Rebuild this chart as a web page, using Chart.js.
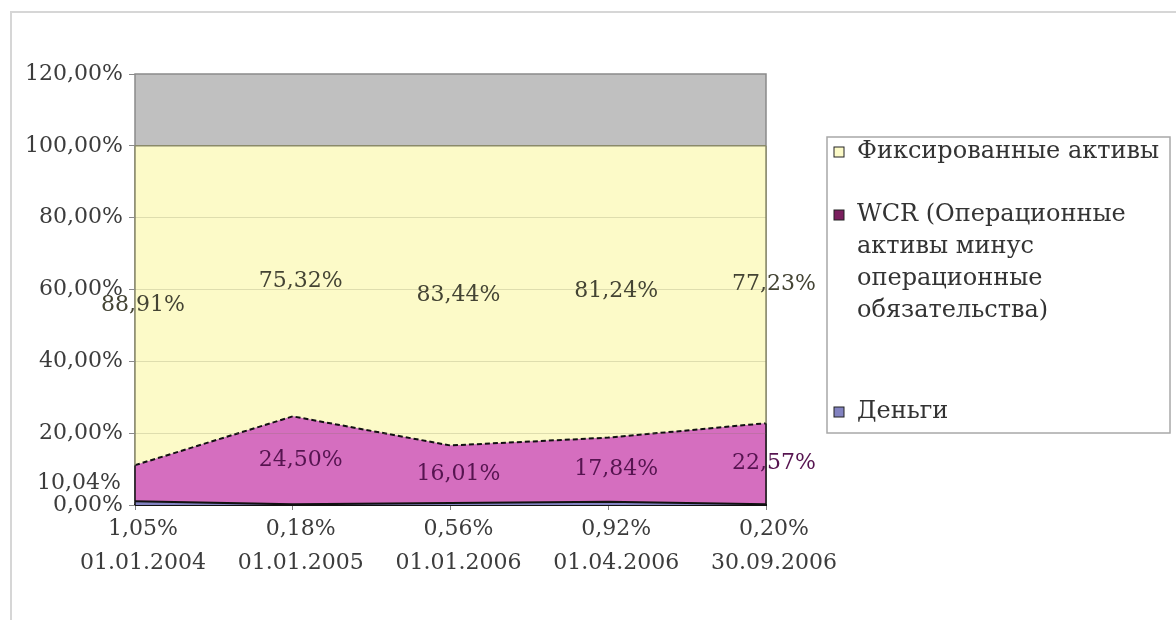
<!DOCTYPE html>
<html>
<head>
<meta charset="utf-8">
<script src="https://cdn.jsdelivr.net/npm/chart.js@4/dist/chart.umd.min.js"></script>
<style>
  html, body { margin: 0; padding: 0; background: #fff; }
  #wrap { width: 1176px; height: 620px; }
</style>
</head>
<body>
<div id="wrap"><canvas id="assetsChart" width="1176" height="620"></canvas></div>
<script>
const dates = ['01.01.2004', '01.01.2005', '01.01.2006', '01.04.2006', '30.09.2006'];
const money = [1.05, 0.18, 0.56, 0.92, 0.20];
const wcr = [10.04, 24.50, 16.01, 17.84, 22.57];
const fixedAssets = [88.91, 75.32, 83.44, 81.24, 77.23];
const seriesNames = ['Деньги', 'WCR (Операционные активы минус операционные обязательства)', 'Фиксированные активы'];
const yTicks = [0, 20, 40, 60, 80, 100, 120];

const FONT = '"DejaVu Serif", serif';
const pct = v => v.toFixed(2).replace('.', ',') + '%';

// white page with the light frame round it
const frame = {
  id: 'frame',
  beforeDraw(chart) {
    const { ctx, chartArea: a } = chart;
    ctx.save();
    ctx.fillStyle = '#fff';
    ctx.fillRect(0, 0, chart.width, chart.height);
    ctx.strokeStyle = '#d6d6d6';
    ctx.lineWidth = 2;
    ctx.strokeRect(11, 12, 1300, 800);
    // gray plot background
    ctx.fillStyle = '#c0c0c0';
    ctx.fillRect(a.left, a.top, a.right - a.left, a.bottom - a.top);
    ctx.strokeStyle = '#8a8a8a';
    ctx.lineWidth = 1.5;
    ctx.strokeRect(a.left, a.top, a.right - a.left, a.bottom - a.top);
    ctx.restore();
  }
};

// band edges at both ends + value labels
const areaLabels = {
  id: 'areaLabels',
  afterDatasetsDraw(chart) {
    const { ctx, chartArea: a, scales: { x, y } } = chart;
    const sets = chart.data.datasets;
    ctx.save();
    sets.forEach((ds, i) => {
      [0, ds.data.length - 1].forEach(j => {
        let base = 0;
        for (let k = 0; k < i; k++) base += sets[k].data[j];
        const px = x.getPixelForValue(j);
        ctx.strokeStyle = ds.edgeColor;
        ctx.lineWidth = 1.5;
        ctx.beginPath();
        ctx.moveTo(px, y.getPixelForValue(base));
        ctx.lineTo(px, y.getPixelForValue(base + ds.data[j]));
        ctx.stroke();
      });
    });

    ctx.font = '22px ' + FONT;
    ctx.textBaseline = 'middle';
    sets.forEach((ds, i) => {
      ds.data.forEach((v, j) => {
        let base = 0;
        for (let k = 0; k < i; k++) base += sets[k].data[j];
        let px = x.getPixelForValue(j) + 8;
        let py = y.getPixelForValue(base + v / 2);
        ctx.textAlign = 'center';
        ctx.fillStyle = ds.labelColor;
        if (i === 0) {
          py = a.bottom + 24;
        } else if (i === 1 && j === 0) {
          ctx.textAlign = 'right';
          ctx.fillStyle = '#3c3c3c';
          px = a.left - 14;
        }
        ctx.fillText(pct(v), px, py);
      });
    });
    ctx.restore();
  }
};

// legend box on the right, entries listed top series first
const sideLegend = {
  id: 'sideLegend',
  afterDraw(chart) {
    const { ctx } = chart;
    const box = { x: 827, y: 137, w: 343, h: 296 };
    const gaps = [63, 101];
    ctx.save();
    ctx.strokeStyle = '#a8a8a8';
    ctx.lineWidth = 1.5;
    ctx.strokeRect(box.x, box.y, box.w, box.h);
    ctx.font = '24px ' + FONT;
    ctx.textBaseline = 'middle';
    ctx.textAlign = 'left';
    const items = chart.data.datasets.slice().reverse();
    let yy = 152;
    items.forEach((ds, n) => {
      // wrap the name into the box width
      const words = ds.label.split(' ');
      const lines = [];
      let cur = '';
      words.forEach(w => {
        const t = cur ? cur + ' ' + w : w;
        if (ctx.measureText(t).width > 310 && cur) { lines.push(cur); cur = w; }
        else cur = t;
      });
      lines.push(cur);
      ctx.fillStyle = ds.legendColor;
      ctx.fillRect(834, yy - 5, 10, 10);
      ctx.strokeStyle = '#222';
      ctx.lineWidth = 1;
      ctx.strokeRect(834, yy - 5, 10, 10);
      ctx.fillStyle = '#333';
      lines.forEach((ln, li) => ctx.fillText(ln, 857, yy + li * 32));
      yy += (lines.length - 1) * 32 + (gaps[n] || 0);
    });
    ctx.restore();
  }
};

new Chart(document.getElementById('assetsChart'), {
  type: 'line',
  data: {
    labels: dates,
    datasets: [
      {
        label: seriesNames[0],
        data: money,
        fill: 'origin',
        backgroundColor: '#8282c0',
        borderColor: '#111',
        borderWidth: 2,
        edgeColor: '#111',
        legendColor: '#8282c0',
        labelColor: '#3c3c3c'
      },
      {
        label: seriesNames[1],
        data: wcr,
        fill: '-1',
        backgroundColor: '#d56ebf',
        borderColor: '#111',
        borderWidth: 2,
        borderDash: [5, 3],
        edgeColor: '#111',
        legendColor: '#7a1f5e',
        labelColor: '#561450'
      },
      {
        label: seriesNames[2],
        data: fixedAssets,
        fill: '-1',
        backgroundColor: '#fcfac8',
        borderColor: '#8a8a6a',
        borderWidth: 1.5,
        edgeColor: '#8a8a6a',
        legendColor: '#fcfac8',
        labelColor: '#444434'
      }
    ]
  },
  options: {
    responsive: false,
    animation: false,
    elements: { point: { radius: 0 }, line: { tension: 0 } },
    layout: { padding: { top: 74, right: 410, left: 0, bottom: 0 } },
    plugins: { legend: { display: false }, tooltip: { enabled: false } },
    scales: {
      x: {
        offset: false,
        afterFit: s => { s.height = 115; },
        grid: { drawOnChartArea: false, tickLength: 5, color: '#808080' },
        border: { color: '#111', width: 2 },
        ticks: { color: '#3c3c3c', font: { family: FONT, size: 22 }, padding: 40, labelOffset: 8, maxRotation: 0, autoSkip: false }
      },
      y: {
        stacked: true,
        min: yTicks[0],
        max: yTicks[yTicks.length - 1],
        afterFit: s => { s.width = 135; },
        afterBuildTicks: s => { s.ticks = yTicks.map(v => ({ value: v })); },
        grid: {
          z: 1,
          tickLength: 6,
          tickColor: '#8a8a8a',
          color: c => (c.tick && c.tick.value > 0 && c.tick.value < 100) ? 'rgba(120,120,80,0.22)' : 'rgba(0,0,0,0)'
        },
        border: { display: false },
        ticks: { color: '#3c3c3c', font: { family: FONT, size: 22 }, padding: 6, callback: v => pct(v) }
      }
    }
  },
  plugins: [frame, areaLabels, sideLegend]
});
</script>
</body>
</html>
